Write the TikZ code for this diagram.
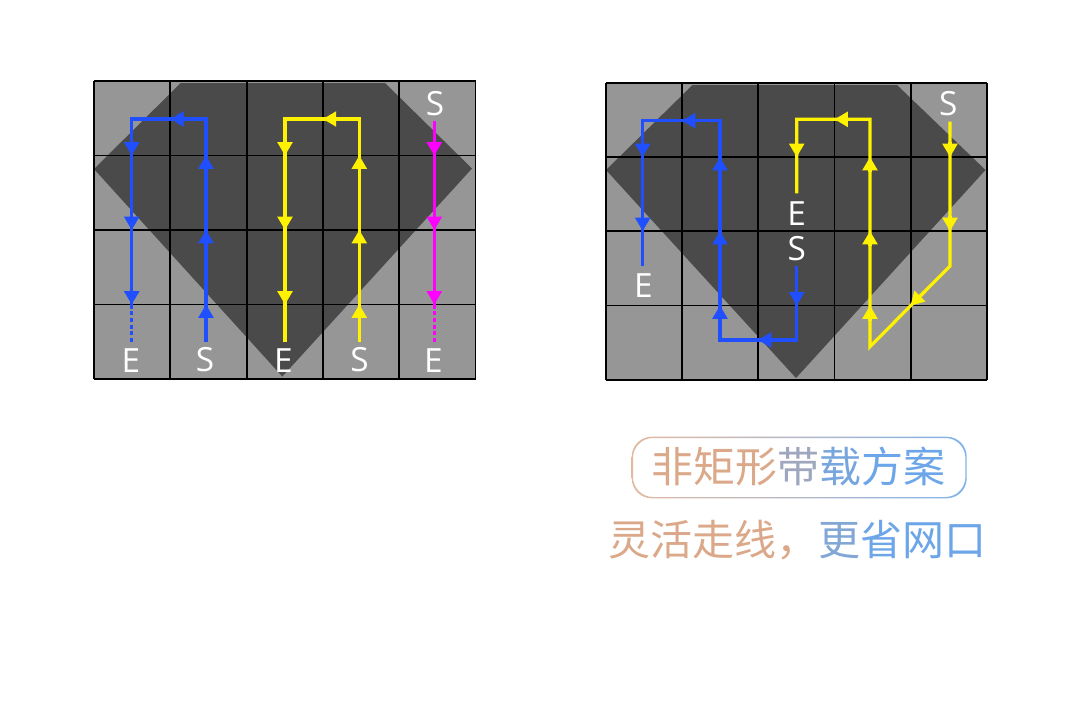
\documentclass[tikz,border=0pt]{standalone}
\usepackage{fontspec}
\setmainfont{Open Sans}
\newfontfamily\cjk{Noto Sans CJK SC}
\usetikzlibrary{arrows.meta}
\definecolor{cellg}{HTML}{969696}
\definecolor{polyg}{HTML}{4A4A4A}
\definecolor{pblue}{HTML}{1F4FFF}
\definecolor{pyel}{HTML}{FFF200}
\definecolor{pmag}{HTML}{FF00FF}
\definecolor{tanc}{HTML}{DBA98A}
\definecolor{bluec}{HTML}{6CA6E8}
\newcommand\tipU[3]{\draw[#1,line width=2.4pt,-{Triangle[length=10pt,width=11pt]}] ({#2},{#3+15}) -- ({#2},{#3});}
\newcommand\tipD[3]{\draw[#1,line width=2.4pt,-{Triangle[length=10pt,width=11pt]}] ({#2},{#3-15}) -- ({#2},{#3});}
\newcommand\tipL[3]{\draw[#1,line width=2.4pt,-{Triangle[length=10pt,width=11pt]}] ({#2+15},{#3}) -- ({#2},{#3});}
\newcommand\tipDL[3]{\draw[#1,line width=2.4pt,-{Triangle[length=10pt,width=11pt]}] ({#2+11},{#3-11}) -- ({#2},{#3});}
\begin{document}
\begin{tikzpicture}[x=0.75pt,y=-0.75pt,
  gridl/.style={black,line width=1.4pt},
  route/.style={line width=2.4pt,line join=miter},
  dotseg/.style={line width=2.4pt,dash pattern=on 3pt off 2pt},
  lab/.style={text=white,font=\fontsize{25}{25}\selectfont,inner sep=0pt},
  cjkt/.style={font=\cjk\fontsize{31.5}{32}\selectfont,inner sep=0pt}]
\fill[white] (0,0) rectangle (1080,700);
\useasboundingbox (0,0) rectangle (1080,700);
% ---------- left grid ----------
\fill[cellg] (94,81) rectangle (475.5,379);
\fill[polyg] (180.7,83) -- (385,83) -- (472,168.5) -- (282.3,376.5) -- (94,169) -- cycle;
\foreach \x in {94,170.3,246.6,322.9,399.2,475.5} \draw[gridl] (\x,81) -- (\x,379);
\foreach \y in {81,155.5,230,304.5,379} \draw[gridl] (94,\y) -- (475.5,\y);
% blue
\draw[route,pblue] (206,342) -- (206,119) -- (131.7,119) -- (131.7,304.5);
\draw[dotseg,pblue] (131.7,304.5) -- (131.7,342);
\tipU{pblue}{206}{304.5}\tipU{pblue}{206}{230}\tipU{pblue}{206}{155.5}
\tipL{pblue}{170.3}{119}
\tipD{pblue}{131.7}{155.5}\tipD{pblue}{131.7}{230}\tipD{pblue}{131.7}{304.5}
% yellow
\draw[route,pyel] (359.3,342) -- (359.3,119) -- (285,119) -- (285,342);
\tipU{pyel}{359.3}{304.5}\tipU{pyel}{359.3}{230}\tipU{pyel}{359.3}{155.5}
\tipL{pyel}{322.9}{119}
\tipD{pyel}{285}{155.5}\tipD{pyel}{285}{230}\tipD{pyel}{285}{304.5}
% magenta
\draw[route,pmag] (434.3,121) -- (434.3,304.5);
\draw[dotseg,pmag] (434.3,304.5) -- (434.3,342);
\tipD{pmag}{434.3}{155.5}\tipD{pmag}{434.3}{230}\tipD{pmag}{434.3}{304.5}
\node[lab] (le1) at (131,361) {E};
\node[lab] (ls1) at (205,360) {S};
\node[lab] (le2) at (283.5,361) {E};
\node[lab] (ls2) at (359.5,360) {S};
\node[lab] (le3) at (433.5,361) {E};
\node[lab] (ls3) at (435,104) {S};
% ---------- right grid ----------
\fill[cellg] (606,83) rectangle (987,380);
\fill[polyg] (692.5,85) -- (897,85) -- (985.5,170) -- (796,378) -- (606,170) -- cycle;
\foreach \x in {606,682,758,834.5,910.7,987} \draw[gridl] (\x,83) -- (\x,380);
\foreach \y in {83,157,231,305.5,380} \draw[gridl] (606,\y) -- (987,\y);
% blue
\draw[route,pblue] (796.7,266) -- (796.7,340) -- (720,340) -- (720,120.7) -- (642.7,120.7) -- (642.7,266);
\tipD{pblue}{796.7}{305.5}
\tipL{pblue}{758}{340}
\tipU{pblue}{720}{305.5}\tipU{pblue}{720}{231}\tipU{pblue}{720}{157}
\tipL{pblue}{682}{120.7}
\tipD{pblue}{642.7}{157}\tipD{pblue}{642.7}{231}
% yellow
\draw[route,pyel] (950,121.7) -- (950,266) -- (870,346.7) -- (870,119.3) -- (796.7,119.3) -- (796.7,193.3);
\tipD{pyel}{950}{157}\tipD{pyel}{950}{231}
\tipDL{pyel}{910.5}{305.5}
\tipU{pyel}{870}{305.5}\tipU{pyel}{870}{231}\tipU{pyel}{870}{157}
\tipL{pyel}{834.5}{119.3}
\tipD{pyel}{796.7}{157}
\node[lab] (rs1) at (948.3,104) {S};
\node[lab] (re1) at (796.7,214) {E};
\node[lab] (rs2) at (796.7,249) {S};
\node[lab] (re2) at (643.3,286) {E};
% ---------- captions ----------
\shade[left color=tanc!80!white,right color=bluec!85!white,even odd rule,rounded corners=15pt]
  (631.7,436.7) rectangle (966.7,498.3)
  (633,438) rectangle (965.4,497);
\node[cjkt] (t1) at (798,467) {\color{tanc}非矩形\color{tanc!45!bluec}带\color{tanc!10!bluec}载\color{bluec}方案};
\node[cjkt] (t2) at (797.5,540) {\color{tanc}灵活走线，\color{tanc!20!bluec}更\color{bluec}省网口};
\end{tikzpicture}
\end{document}
